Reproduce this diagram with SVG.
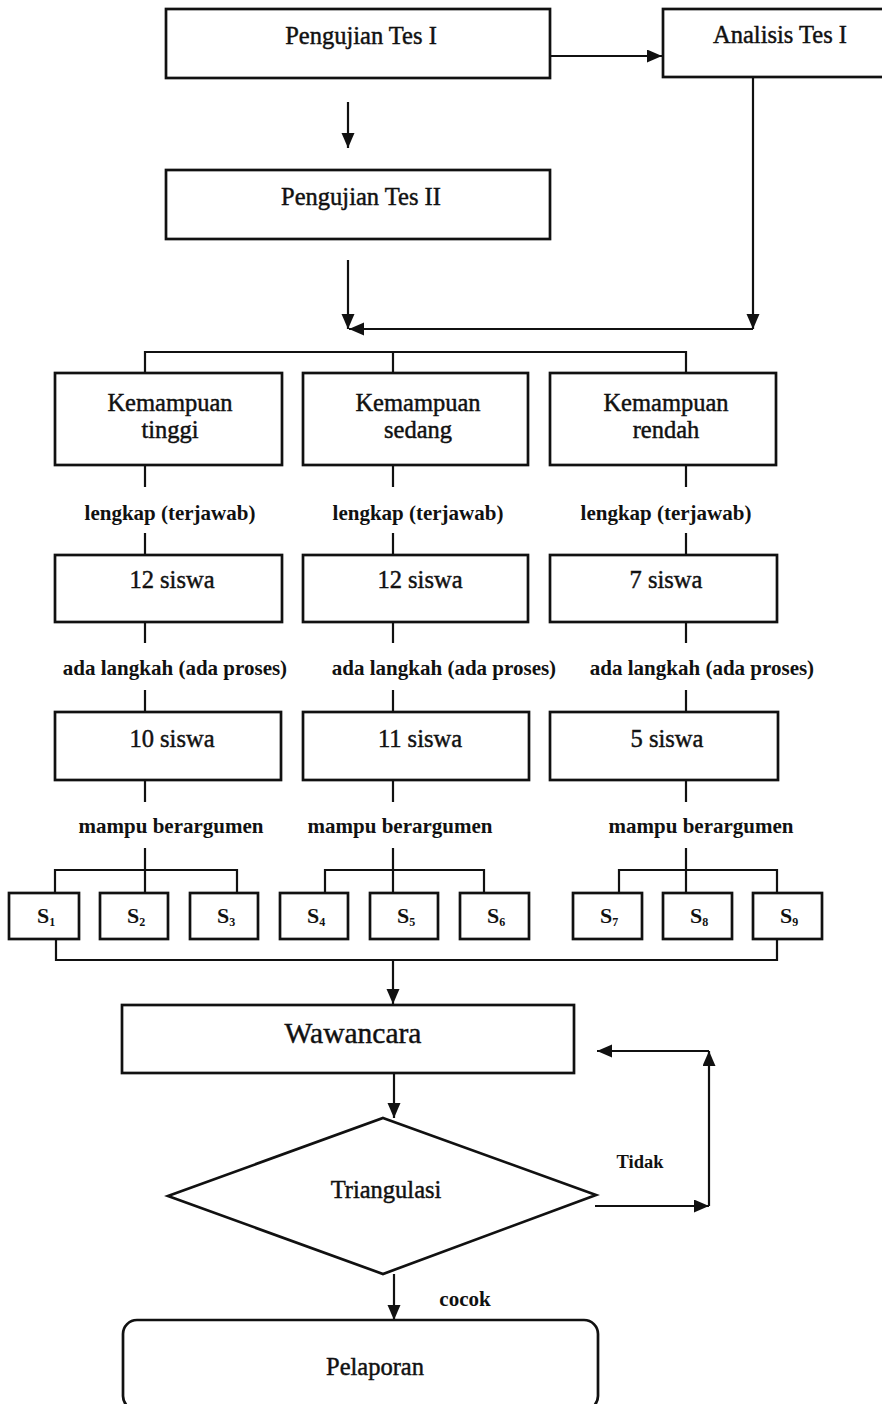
<svg xmlns="http://www.w3.org/2000/svg" width="882" height="1404" viewBox="0 0 882 1404">
<style>
.bx{fill:#fff;stroke:#111;stroke-width:2.7}
.ln{fill:none;stroke:#111;stroke-width:2.2}
.t{font-family:"Liberation Serif","Times New Roman",serif;font-size:24.5px;fill:#111;stroke:#111;stroke-width:0.45;text-anchor:middle}
.lb{font-family:"Liberation Serif","Times New Roman",serif;font-size:21px;font-weight:bold;fill:#111;text-anchor:middle}
.s{font-family:"Liberation Serif","Times New Roman",serif;font-size:22px;font-weight:bold;fill:#111;text-anchor:middle}
.sub{font-size:12px}
</style>
<defs>
<marker id="ah" markerUnits="userSpaceOnUse" markerWidth="16" markerHeight="14" refX="15" refY="6.5" orient="auto">
<path d="M0,0 L15,6.5 L0,13 Z" fill="#111"/>
</marker>
</defs>
<rect width="882" height="1404" fill="#fff"/>

<g id="connectors">
<line class="ln" x1="550" y1="56" x2="662" y2="56" marker-end="url(#ah)"/>
<line class="ln" x1="348" y1="102" x2="348" y2="148" marker-end="url(#ah)"/>
<line class="ln" x1="348" y1="260" x2="348" y2="329" marker-end="url(#ah)"/>
<line class="ln" x1="753" y1="77" x2="753" y2="329" marker-end="url(#ah)"/>
<line class="ln" x1="753" y1="329" x2="349" y2="329" marker-end="url(#ah)"/>
<path class="ln" d="M145,373 V352 H686 V373 M393,352 V373"/>
<path class="ln" d="M145,465 V487 M393,465 V487 M686,465 V487"/>
<path class="ln" d="M145,533 V555 M393,533 V555 M686,533 V555"/>
<path class="ln" d="M145,622 V643 M393,622 V643 M686,622 V643"/>
<path class="ln" d="M145,690 V712 M393,690 V712 M686,690 V712"/>
<path class="ln" d="M145,780 V802 M393,780 V802 M686,780 V802"/>
<path class="ln" d="M145,848 V893 M55,893 V870 H237 V893"/>
<path class="ln" d="M393,848 V893 M325,893 V870 H484 V893"/>
<path class="ln" d="M686,848 V893 M619,893 V870 H777 V893"/>
<path class="ln" d="M56,939 V960 H777 V939"/>
<line class="ln" x1="393" y1="960" x2="393" y2="1004" marker-end="url(#ah)"/>
<line class="ln" x1="394" y1="1073" x2="394" y2="1118" marker-end="url(#ah)"/>
<line class="ln" x1="595" y1="1206" x2="709" y2="1206" marker-end="url(#ah)"/>
<line class="ln" x1="709" y1="1206" x2="709" y2="1051" marker-end="url(#ah)"/>
<line class="ln" x1="709" y1="1051" x2="597" y2="1051" marker-end="url(#ah)"/>
<line class="ln" x1="394" y1="1274" x2="394" y2="1320" marker-end="url(#ah)"/>
<text class="lb" x="170" y="520">lengkap (terjawab)</text>
<text class="lb" x="418" y="520">lengkap (terjawab)</text>
<text class="lb" x="666" y="520">lengkap (terjawab)</text>
<text class="lb" x="175" y="675">ada langkah (ada proses)</text>
<text class="lb" x="444" y="675">ada langkah (ada proses)</text>
<text class="lb" x="702" y="675">ada langkah (ada proses)</text>
<text class="lb" x="171" y="833">mampu berargumen</text>
<text class="lb" x="400" y="833">mampu berargumen</text>
<text class="lb" x="701" y="833">mampu berargumen</text>
<text class="lb" x="640" y="1168" style="font-size:18.5px">Tidak</text>
<text class="lb" x="465" y="1306">cocok</text>
</g>

<g id="pengujian1"><rect class="bx" x="166" y="9" width="384" height="69"/><text class="t" x="361" y="44">Pengujian Tes I</text></g>
<g id="analisis1"><rect class="bx" x="663" y="9" width="230" height="68"/><text class="t" x="780" y="43">Analisis Tes I</text></g>
<g id="pengujian2"><rect class="bx" x="166" y="170" width="384" height="69"/><text class="t" x="361" y="205">Pengujian Tes II</text></g>

<g id="k-tinggi"><rect class="bx" x="55" y="373" width="227" height="92"/><text class="t" x="170" y="411">Kemampuan</text><text class="t" x="170" y="438">tinggi</text></g>
<g id="k-sedang"><rect class="bx" x="303" y="373" width="225" height="92"/><text class="t" x="418" y="411">Kemampuan</text><text class="t" x="418" y="438">sedang</text></g>
<g id="k-rendah"><rect class="bx" x="550" y="373" width="226" height="92"/><text class="t" x="666" y="411">Kemampuan</text><text class="t" x="666" y="438">rendah</text></g>

<g id="n12a"><rect class="bx" x="55" y="555" width="227" height="67"/><text class="t" x="172" y="588">12 siswa</text></g>
<g id="n12b"><rect class="bx" x="303" y="555" width="225" height="67"/><text class="t" x="420" y="588">12 siswa</text></g>
<g id="n7"><rect class="bx" x="550" y="555" width="227" height="67"/><text class="t" x="666" y="588">7 siswa</text></g>

<g id="n10"><rect class="bx" x="55" y="712" width="226" height="68"/><text class="t" x="172" y="747">10 siswa</text></g>
<g id="n11"><rect class="bx" x="303" y="712" width="226" height="68"/><text class="t" x="420" y="747">11 siswa</text></g>
<g id="n5"><rect class="bx" x="550" y="712" width="228" height="68"/><text class="t" x="667" y="747">5 siswa</text></g>

<g id="s1"><rect class="bx" x="9" y="893" width="70" height="46"/><text class="s" x="46" y="923">S<tspan class="sub" dy="3">1</tspan></text></g>
<g id="s2"><rect class="bx" x="100" y="893" width="68" height="46"/><text class="s" x="136" y="923">S<tspan class="sub" dy="3">2</tspan></text></g>
<g id="s3"><rect class="bx" x="190" y="893" width="68" height="46"/><text class="s" x="226" y="923">S<tspan class="sub" dy="3">3</tspan></text></g>
<g id="s4"><rect class="bx" x="280" y="893" width="68" height="46"/><text class="s" x="316" y="923">S<tspan class="sub" dy="3">4</tspan></text></g>
<g id="s5"><rect class="bx" x="370" y="893" width="68" height="46"/><text class="s" x="406" y="923">S<tspan class="sub" dy="3">5</tspan></text></g>
<g id="s6"><rect class="bx" x="460" y="893" width="69" height="46"/><text class="s" x="496" y="923">S<tspan class="sub" dy="3">6</tspan></text></g>
<g id="s7"><rect class="bx" x="573" y="893" width="69" height="46"/><text class="s" x="609" y="923">S<tspan class="sub" dy="3">7</tspan></text></g>
<g id="s8"><rect class="bx" x="663" y="893" width="69" height="46"/><text class="s" x="699" y="923">S<tspan class="sub" dy="3">8</tspan></text></g>
<g id="s9"><rect class="bx" x="753" y="893" width="69" height="46"/><text class="s" x="789" y="923">S<tspan class="sub" dy="3">9</tspan></text></g>

<g id="wawancara"><rect class="bx" x="122" y="1005" width="452" height="68"/><text class="t" x="353" y="1043" style="font-size:29.5px">Wawancara</text></g>
<g id="triangulasi"><polygon class="bx" points="383,1118 596,1195 383,1274 168,1196"/><text class="t" x="386" y="1198">Triangulasi</text></g>
<g id="pelaporan"><rect class="bx" x="123" y="1320" width="475" height="90" rx="14" ry="14"/><text class="t" x="375" y="1375">Pelaporan</text></g>
</svg>
